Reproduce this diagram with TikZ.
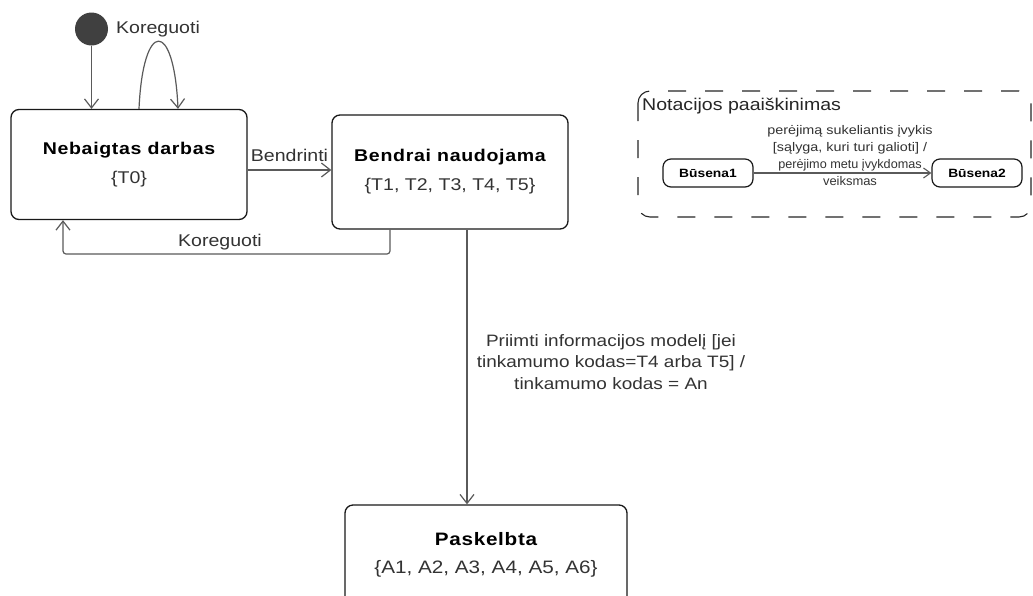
\documentclass[tikz,border=0pt]{standalone}
\usepackage{fontspec}
\setmainfont{Liberation Sans}[FakeStretch=1.15]
\usetikzlibrary{arrows.meta,calc}
\definecolor{linegray}{HTML}{5A5A5A}
\definecolor{textgray}{HTML}{333333}
\definecolor{dotfill}{HTML}{404040}
\newcommand\statetitle[1]{{\bfseries\addfontfeature{LetterSpace=4}\color{black}#1}}
\tikzset{
  statebox/.style={draw=black!90, line width=1.3pt, rounded corners=8pt, fill=white,
    align=center, text=textgray, inner sep=0pt,
    font=\fontsize{17}{29}\selectfont},
  smallstate/.style={draw=black!90, line width=1.2pt, rounded corners=8pt,
    minimum width=90pt, minimum height=28pt, inner sep=0pt,
    font=\fontsize{12}{14}\bfseries\selectfont},
  conn/.style={draw=linegray, line width=1.2pt,
    -{Straight Barb[length=9pt,width=14pt,line width=1.2pt]}},
  smallconn/.style={draw=linegray, line width=1.1pt,
    -{Straight Barb[length=7pt,width=10pt,line width=1.1pt]}},
  lbl/.style={text=textgray, inner sep=0pt, font=\fontsize{17}{20}\selectfont},
  notebox/.style={draw=black!85, line width=1.1pt, dash pattern=on 18pt off 19pt,
    rounded corners=12pt},
}
\begin{document}
\begin{tikzpicture}[x=1pt,y=-1pt]
\clip (0,0) rectangle (1033,595);
\fill[white] (0,0) rectangle (1033,595);

% states
\node[statebox, minimum width=236pt, minimum height=110pt] (b1) at (129,164.5)
  {\statetitle{Nebaigtas darbas}\\\{T0\}};
\node[statebox, minimum width=236pt, minimum height=114pt] (b2) at (450,172)
  {\statetitle{Bendrai naudojama}\\\{T1, T2, T3, T4, T5\}};
\node[statebox, minimum width=282pt, minimum height=100pt,
  font=\fontsize{18}{28}\selectfont] (b3) at (486,555)
  {\statetitle{Paskelbta}\\\{A1, A2, A3, A4, A5, A6\}};

% initial state
\node[circle, fill=dotfill, minimum size=33pt, inner sep=0pt] (init) at (91.5,29) {};
\node[lbl, anchor=west] (lkor1) at (116,29) {Koreguoti};
\draw[conn] (init.south) -- (init.south |- b1.north);

% self transition on the first state
\coordinate (la) at ($(b1.north)+(10,0)$);
\coordinate (lb) at ($(b1.north)+(49,0)$);
\draw[conn] (la) .. controls ($(la)+(4,-90)$) and ($(lb)+(-4,-90)$) .. (lb);

% Bendrinti
\coordinate (bs) at ($(b1.east)+(0,5.5)$);
\draw[conn] (bs) -- (bs -| b2.west)
  node[lbl, midway, above=8pt] (lbend) {Bendrinti};

% back to the first state
\coordinate (kr) at (220,254);
\draw[conn, rounded corners=3pt] ([xshift=-60pt]b2.south) |- (kr) -| ([xshift=-66pt]b1.south);
\node[lbl] (lkor2) at (220,242) {Koreguoti};

% publish
\coordinate (vx) at (467,0);
\draw[conn] (b2.south -| vx) -- (b3.north -| vx);
\node[lbl, align=center, font=\fontsize{16.5}{21.5}\selectfont] (lpub) at (611,362)
  {Priimti informacijos modelį [jei\\tinkamumo kodas=T4 arba T5] /\\tinkamumo kodas = An};

% notation legend
\draw[notebox] (638,91) rectangle (1031,217);
\node[lbl, anchor=west, text=black!85] (ltitle) at (642,106) {Notacijos paaiškinimas};
\node[smallstate] (s1) at (708,173) {Būsena1};
\node[smallstate] (s2) at (977,173) {Būsena2};
\draw[smallconn] (s1) -- (s2);
\node[lbl, align=center, font=\fontsize{12.5}{16.8}\selectfont] (ltr) at (850,155.5)
  {perėjimą sukeliantis įvykis\\\relax[sąlyga, kuri turi galioti] /\\
   \scalebox{0.88}[1]{perėjimo metu įvykdomas}\\\scalebox{0.9}[1]{veiksmas}};
\end{tikzpicture}
\end{document}
